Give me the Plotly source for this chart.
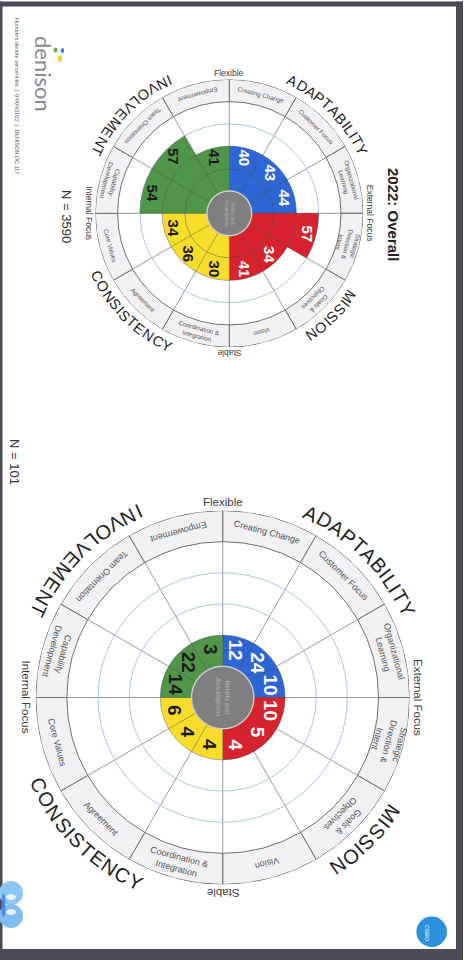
import math
import plotly.graph_objects as go

W, H = 468, 960
FONT = "Liberation Sans, Arial, sans-serif"

# ---- Denison circumplex data: 12 indices, clockwise from "Flexible" ----
traits = ["ADAPTABILITY", "MISSION", "CONSISTENCY", "INVOLVEMENT"]
trait_colors = ["#2f66d6", "#d8232f", "#f7dc2a", "#519648"]
value_text_colors = ["white", "white", "#1b1b1b", "#1b1b1b"]
indices = ["Creating Change", "Customer Focus", "Organizational<br>Learning",
           "Strategic<br>Direction &<br>Intent", "Goals &<br>Objectives", "Vision",
           "Coordination &<br>Integration", "Agreement", "Core Values",
           "Capability<br>Development", "Team Orientation", "Empowerment"]
poles = ["Flexible", "External Focus", "Stable", "Internal Focus"]

overall_2022 = [40, 43, 44, 57, 34, 41, 30, 36, 34, 54, 57, 41]
group_101 = [12, 24, 10, 10, 5, 4, 4, 4, 6, 14, 22, 3]

# chart geometry (pixel centre / outer radius) and text sizes
charts = [
    dict(name="polar", values=overall_2022, cx=229.3, cy=213.3, R=134.0,
         big=14.5, track=0.6, sub=6.3, pole=8.5, val=15, hub=4.6),
    dict(name="polar2", values=group_101, cx=222.7, cy=697.5, R=187.0,
         big=20, track=0.9, sub=9, pole=11.5, val=19, hub=6.8),
]
R_MAX = 6.0  # hub 0-1, quartiles 1-5, index band 5-6

CHAR_W = {"A": .667, "B": .667, "C": .722, "D": .722, "E": .667, "I": .278,
          "L": .556, "M": .833, "N": .722, "O": .778, "P": .667, "S": .667,
          "T": .611, "V": .667, "Y": .667}


def quartile(v):
    return min(4, max(1, math.ceil(v / 25)))


def to_paper(ch, theta, r):
    unit = ch["R"] / R_MAX
    px = ch["cx"] + r * unit * math.sin(math.radians(theta))
    py = ch["cy"] - r * unit * math.cos(math.radians(theta))
    return px / W, 1 - py / H


def norm(a):
    a = a % 360
    return a - 360 if a > 180 else a


def tangent_angle(theta):
    # right half: tops outward; left half: tops inward
    return norm(theta if theta <= 180 else theta + 180)


def label(x, y, text, angle, size, color, family=FONT):
    return dict(x=x, y=y, xref="paper", yref="paper", text=text, textangle=angle,
                showarrow=False, xanchor="center", yanchor="middle",
                font=dict(family=family, size=size, color=color))


fig = go.Figure()
annotations = []
shapes = []

for ch in charts:
    sp = ch["name"]
    centers = [15 + 30 * k for k in range(12)]
    # index label band
    fig.add_trace(go.Barpolar(theta=centers, r=[1] * 12, base=[5] * 12, width=[30] * 12,
                              marker=dict(color="#f1f1f3", line=dict(color="#6f6f6f", width=1)),
                              subplot=sp, hoverinfo="skip", showlegend=False))
    # quartile fills per trait
    for t in range(4):
        th, rr, bb = [], [], []
        for k in range(3 * t, 3 * t + 3):
            for q in range(1, quartile(ch["values"][k]) + 1):
                th.append(centers[k]); rr.append(1); bb.append(q)
        fig.add_trace(go.Barpolar(theta=th, r=rr, base=bb, width=[30] * len(th),
                                  marker=dict(color=trait_colors[t],
                                              line=dict(color="rgba(40,40,40,0.28)", width=0.8)),
                                  subplot=sp, hoverinfo="skip", showlegend=False))
    # hub
    fig.add_trace(go.Barpolar(theta=centers, r=[1] * 12, base=[0] * 12, width=[30] * 12,
                              marker=dict(color="#7f7f7f", line=dict(color="#7f7f7f", width=0.6)),
                              subplot=sp, hoverinfo="skip", showlegend=False))
    ring_t = list(range(0, 361, 2))
    fig.add_trace(go.Scatterpolar(theta=ring_t, r=[1] * len(ring_t), mode="lines",
                                  line=dict(color="#cfcfcf", width=1.4),
                                  subplot=sp, hoverinfo="skip", showlegend=False))

    # value labels
    for k, v in enumerate(ch["values"]):
        x, y = to_paper(ch, centers[k], 1 + quartile(v) - 0.42)
        annotations.append(label(x, y, f"<b>{v}</b>", 90, ch["val"], value_text_colors[k // 3]))
    # hub caption
    x, y = to_paper(ch, 0, 0)
    annotations.append(label(x, y, "Beliefs and<br>Assumptions", 90, ch["hub"], "#b4b4b4"))
    # index names in the band
    for k, name in enumerate(indices):
        x, y = to_paper(ch, centers[k], 5.5)
        annotations.append(label(x, y, name, tangent_angle(centers[k]), ch["sub"], "#555555"))
    # pole labels
    for i, p in enumerate(poles):
        th = 90 * i
        x, y = to_paper(ch, th, 6.28)
        annotations.append(label(x, y, p, tangent_angle(th), ch["pole"], "#3c3c3c"))
    # trait names set letter by letter along the arc
    unit = ch["R"] / R_MAX
    r_txt = 6.55
    for t, name in enumerate(traits):
        tc = 45 + 90 * t
        size = ch["big"]
        widths = [CHAR_W.get(c, 0.6) * size for c in name]
        total = sum(widths) + ch["track"] * (len(name) - 1)
        s = -total / 2
        cw = tc < 180
        for c, w in zip(name, widths):
            mid = s + w / 2
            s += w + ch["track"]
            d = math.degrees(mid / (r_txt * unit))
            th = tc + d if cw else tc - d
            x, y = to_paper(ch, th, r_txt)
            annotations.append(label(x, y, c, tangent_angle(th), size, "#222222"))


def polar_layout(ch):
    x0 = (ch["cx"] - ch["R"]) / W
    x1 = (ch["cx"] + ch["R"]) / W
    y0 = 1 - (ch["cy"] + ch["R"]) / H
    y1 = 1 - (ch["cy"] - ch["R"]) / H
    return dict(domain=dict(x=[x0, x1], y=[y0, y1]), bgcolor="rgba(0,0,0,0)", barmode="overlay",
                radialaxis=dict(range=[0, R_MAX], tickvals=[2, 3, 4], showticklabels=False, ticks="",
                                showline=False, gridcolor="#a9c6e8", gridwidth=1),
                angularaxis=dict(rotation=90, direction="clockwise", tickvals=list(range(0, 360, 30)),
                                 showticklabels=False, ticks="", showline=False,
                                 gridcolor="#9c9c9c", gridwidth=1))


def px_rect(x0, y0, x1, y1, color):
    return dict(type="rect", xref="paper", yref="paper", x0=x0 / W, x1=x1 / W,
                y0=1 - y1 / H, y1=1 - y0 / H, fillcolor=color, line=dict(width=0), layer="above")


def px_circle(cx, cy, r, color, rx=None):
    rx = r if rx is None else rx
    return dict(type="circle", xref="paper", yref="paper", x0=(cx - rx) / W, x1=(cx + rx) / W,
                y0=1 - (cy + r) / H, y1=1 - (cy - r) / H, fillcolor=color, line=dict(width=0),
                layer="above")


# page frame
frame = "#4b4b57"
shapes += [px_rect(0, 1.5, 463, 6.5, frame), px_rect(456, 1.5, 463, 960, frame),
           px_rect(0, 949, 463, 960, frame), px_rect(0, 1.5, 2.5, 960, frame)]

# denison mark
shapes += [px_circle(55.5, 50, 2.6, "#6cb04a", rx=2.0), px_circle(62.5, 50.5, 2.6, "#2f8fd8", rx=1.8),
           px_circle(60, 58.5, 3.2, "#f2cf1f", rx=2.0)]
# CSIRO badge
shapes.append(px_circle(431.7, 931.7, 15.3, "#2c8fdc"))
# partial badge at the lower-left edge
shapes += [px_circle(11, 893, 12, "#8cc6f3", rx=12), px_circle(11, 916, 12, "#80bdf0", rx=12),
           px_circle(11, 897, 3, "#e8f3fc", rx=5), px_circle(11, 912, 3, "#e8f3fc", rx=5),
           px_circle(3.5, 905, 12, "#4a86e6", rx=2)]

page_text = [
    dict(text="<b>2022: Overall</b>", x=394, y=214, size=15, color="#222222"),
    dict(text="N = 3590", x=66, y=216, size=13, color="#333333"),
    dict(text="N = 101", x=14, y=462, size=13, color="#333333"),
    dict(text="denison", x=44, y=74, size=22, color="#8a8a96", family="Lato, sans-serif"),
    dict(text="Numbers denote percentiles  |  04/04/2022  |  DENISON.DC.117", x=17, y=96, size=5.5,
         color="#555555"),
    dict(text="CSIRO", x=427, y=933, size=5, color="white"),
]
for p in page_text:
    annotations.append(label(p["x"] / W, 1 - p["y"] / H, p["text"], 90, p["size"], p["color"],
                             p.get("family", FONT)))

fig.update_layout(width=W, height=H, margin=dict(l=0, r=0, t=0, b=0),
                  paper_bgcolor="white", plot_bgcolor="white",
                  polar=polar_layout(charts[0]), polar2=polar_layout(charts[1]),
                  annotations=annotations, shapes=shapes, showlegend=False)

fig.write_html("out.html")
